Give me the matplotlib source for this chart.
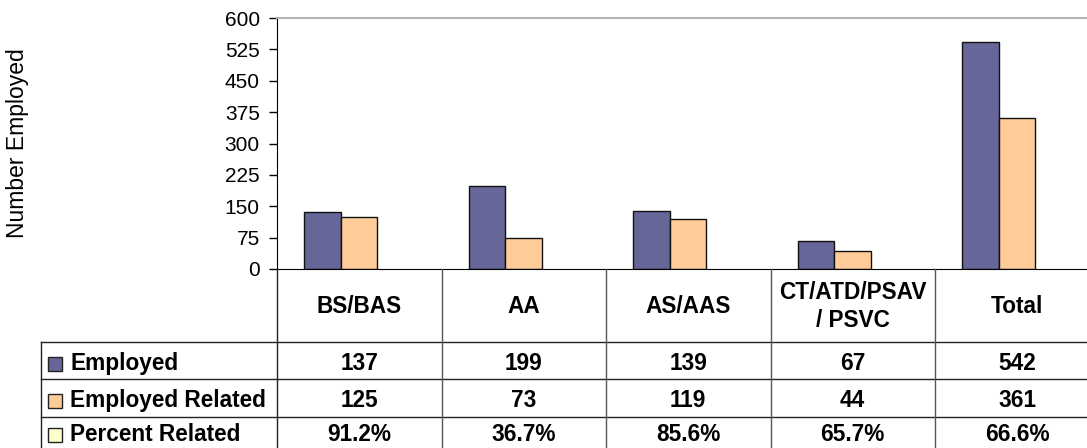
import matplotlib
matplotlib.use("Agg")
import matplotlib.pyplot as plt
from matplotlib.patches import Rectangle

plt.rcParams['font.family'] = ['Liberation Sans', 'DejaVu Sans']

categories = ['BS/BAS', 'AA', 'AS/AAS', 'CT/ATD/PSAV\n/ PSVC', 'Total']
employed = [137, 199, 139, 67, 542]
employed_related = [125, 73, 119, 44, 361]
percent_related = ['91.2%', '36.7%', '85.6%', '65.7%', '66.6%']
row_labels = ['Employed', 'Employed Related', 'Percent Related']
row_colors = ['#666699', '#FFCC99', '#FFFFCC']
yticks = [0, 75, 150, 225, 300, 375, 450, 525, 600]

W, H = 1087, 448
fig = plt.figure(figsize=(W / 100, H / 100), dpi=100)

# pixel geometry
x_left = 277
col_w = 164.5
x_right = x_left + col_w * 5
y_top, y_zero = 18, 269

ax = fig.add_axes([x_left / W, (H - y_zero) / H, (x_right - x_left) / W, (y_zero - y_top) / H])
n = len(categories)
bw = 0.222
lefts = [i + 0.166 for i in range(n)]
ax.bar(lefts, employed, width=bw, align='edge', color=row_colors[0], edgecolor='#111111', linewidth=1)
ax.bar([l + bw for l in lefts], employed_related, width=bw, align='edge', color=row_colors[1],
       edgecolor='#111111', linewidth=1)
ax.set_xlim(0, n)
ax.set_ylim(0, 600)
ax.set_yticks(yticks)
ax.set_xticks([])
ax.tick_params(axis='y', direction='out', length=5.5, width=1, labelsize=15, pad=7)
ax.spines['right'].set_visible(False)
ax.spines['top'].set_color('#b3b3b3')
ax.spines['top'].set_linewidth(1.5)
ax.spines['left'].set_color('black')
ax.spines['bottom'].set_color('black')
ax.set_ylabel('Number Employed', fontsize=16.5)
ax.yaxis.set_label_coords(-(x_left - 29) / (x_right - x_left), 0.5)

# data table drawn below the plot
lab_left = 41
tbot = 454
tab = fig.add_axes([lab_left / W, (H - tbot) / H, (x_right - lab_left) / W, (tbot - y_zero) / H])
lab_units = (x_left - lab_left) / col_w
tab.set_xlim(-lab_units, n)
tab.set_ylim(tbot - y_zero, 0)
tab.axis('off')

hdr = 342 - y_zero
row_h = 37.3
lc_h = '#222222'
lc_v = '#555555'
# horizontal lines
for k in range(3):
    yy = hdr + k * row_h
    tab.plot([-lab_units, n], [yy, yy], color=lc_h, lw=1, clip_on=False)
# vertical lines
tab.plot([-lab_units, -lab_units], [hdr, tbot - y_zero], color=lc_h, lw=1, clip_on=False)
for i in range(n):
    tab.plot([i, i], [0, tbot - y_zero], color=lc_v if i > 0 else lc_h, lw=1, clip_on=False)

fs = 16.3
for i, c in enumerate(categories):
    tab.text(i + 0.5, hdr / 2 + 1, c, ha='center', va='center', fontsize=fs, fontweight='bold',
             linespacing=1.25)

rows = [[str(v) for v in employed], [str(v) for v in employed_related], percent_related]
key = 14
offsets = [3, 3, -0.5]  # last row sits at the bottom edge of the picture
for r, (lab, vals) in enumerate(zip(row_labels, rows)):
    yc = hdr + r * row_h + row_h / 2 + offsets[r]
    kx = -lab_units + (48 - lab_left) / col_w
    tab.add_patch(Rectangle((kx, yc - key / 2), key / col_w, key, facecolor=row_colors[r],
                            edgecolor='#222222', lw=1, clip_on=False))
    tab.text(-lab_units + (70 - lab_left) / col_w, yc, lab, ha='left', va='center', fontsize=fs,
             fontweight='bold')
    for i, v in enumerate(vals):
        tab.text(i + 0.5, yc, v, ha='center', va='center', fontsize=fs, fontweight='bold')

fig.savefig('out.png', dpi=100)
